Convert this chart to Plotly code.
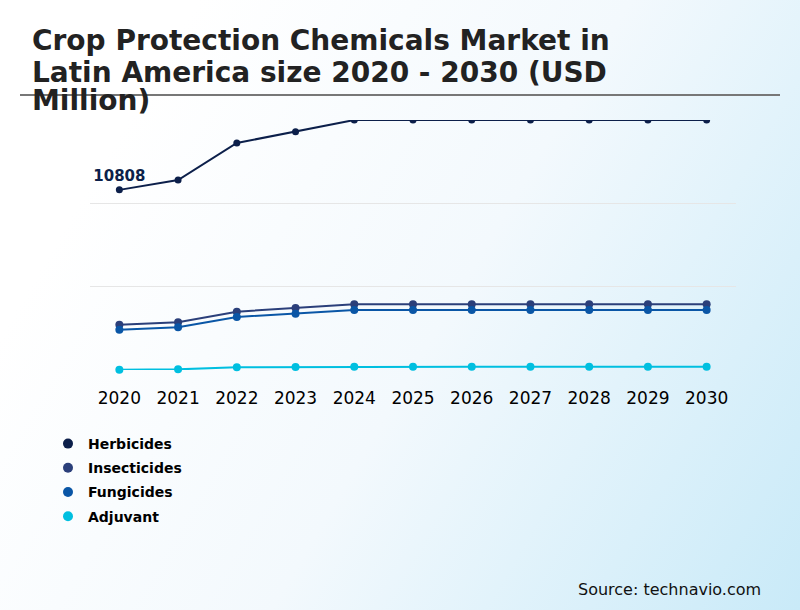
import plotly.graph_objects as go

years = ["2020", "2021", "2022", "2023", "2024", "2025", "2026", "2027", "2028", "2029", "2030"]
herbicides = [10808, 11400, 13620, 14300, 15000, 15000, 15000, 15000, 15000, 15000, 15000]
insecticides = [2720, 2860, 3500, 3720, 3950, 3950, 3950, 3950, 3950, 3950, 3950]
fungicides = [2420, 2560, 3180, 3380, 3600, 3600, 3600, 3600, 3600, 3600, 3600]
adjuvant = [20, 40, 160, 180, 200, 200, 200, 200, 200, 200, 200]
y_ticks = [0, 5000, 10000, 15000]

series = [
    ("Herbicides", herbicides, "#0c1f4a", 7),
    ("Insecticides", insecticides, "#2b3f7a", 8),
    ("Fungicides", fungicides, "#0a56a6", 8),
    ("Adjuvant", adjuvant, "#00bfe0", 8),
]

W, H = 800, 610
L, R, T, B = 90, 64, 120, 240
pw, ph = W - L - R, H - T - B


def px(x):
    return (x - L) / pw


def py(y):
    return (T + ph - y) / ph


fig = go.Figure()
for name, vals, color, ms in series:
    text = [str(vals[0])] + [""] * (len(vals) - 1) if name == "Herbicides" else None
    fig.add_trace(go.Scatter(
        x=years, y=vals, name=name, mode="lines+markers+text" if text else "lines+markers",
        line=dict(color=color, width=2), marker=dict(color=color, size=ms),
        text=text, textposition="top center",
        textfont=dict(family="DejaVu Sans", size=15, color=color, weight="bold"),
        cliponaxis=(name == "Herbicides"),
        showlegend=False, hoverinfo="skip",
    ))
for name, vals, color, ms in series:
    fig.add_trace(go.Scatter(
        x=[None], y=[None], name=name, mode="markers", legendgroup=name,
        marker=dict(color=color, size=10), showlegend=True,
    ))

bg_svg = (
    "data:image/svg+xml;utf8,"
    "<svg xmlns='http://www.w3.org/2000/svg' width='800' height='610'>"
    "<defs><linearGradient id='g' x1='0' y1='0.55' x2='1' y2='1'>"
    "<stop offset='0' stop-color='%23ffffff'/>"
    "<stop offset='0.45' stop-color='%23f3f9fd'/>"
    "<stop offset='1' stop-color='%23c9eaf8'/>"
    "</linearGradient></defs>"
    "<rect width='800' height='610' fill='url(%23g)'/></svg>"
)

annotations = []
title_lines = ["Crop Protection Chemicals Market in", "Latin America size 2020 - 2030 (USD", "Million)"]
title_y = [41, 72, 101]
for line, ty in zip(title_lines, title_y):
    annotations.append(dict(
        text=line, xref="paper", yref="paper", x=px(30), y=py(ty),
        xanchor="left", yanchor="middle", showarrow=False,
        font=dict(family="DejaVu Sans", size=28, color="#222222", weight="bold"),
    ))
annotations.append(dict(
    text="Source: technavio.com", xref="paper", yref="paper", x=px(763), y=py(589),
    xanchor="right", yanchor="middle", showarrow=False,
    font=dict(family="DejaVu Sans", size=16, color="#111111"),
))

fig.update_layout(
    width=W, height=H,
    margin=dict(l=L, r=R, t=T, b=B),
    paper_bgcolor="white",
    plot_bgcolor="rgba(0,0,0,0)",
    images=[dict(source=bg_svg, xref="paper", yref="paper", x=px(0), y=py(0),
                 sizex=W / pw, sizey=H / ph, xanchor="left", yanchor="top",
                 sizing="stretch", layer="below")],
    shapes=[dict(type="line", xref="paper", yref="paper", x0=px(20), x1=px(780),
                 y0=py(95), y1=py(95), line=dict(color="#777777", width=2), layer="above")],
    annotations=annotations,
    xaxis=dict(type="category", range=[-0.5, 10.5], showgrid=False, zeroline=False,
               showline=False, ticks="", ticklabelstandoff=16,
               tickfont=dict(family="DejaVu Sans", size=17, color="#000000")),
    yaxis=dict(range=[0, 15000], tickvals=y_ticks, showticklabels=False,
               gridcolor="#e6e6e6", gridwidth=1, zeroline=False, showline=False),
    legend=dict(x=px(48), y=py(428), xanchor="left", yanchor="top", orientation="v",
                bgcolor="rgba(0,0,0,0)", itemwidth=30, tracegroupgap=3,
                font=dict(family="DejaVu Sans", size=14, color="#000000", weight="bold")),
    showlegend=True,
)

fig.write_html("out.html", config={"displayModeBar": False},
               post_script="document.body.style.margin='0';document.body.style.overflow='hidden';")
